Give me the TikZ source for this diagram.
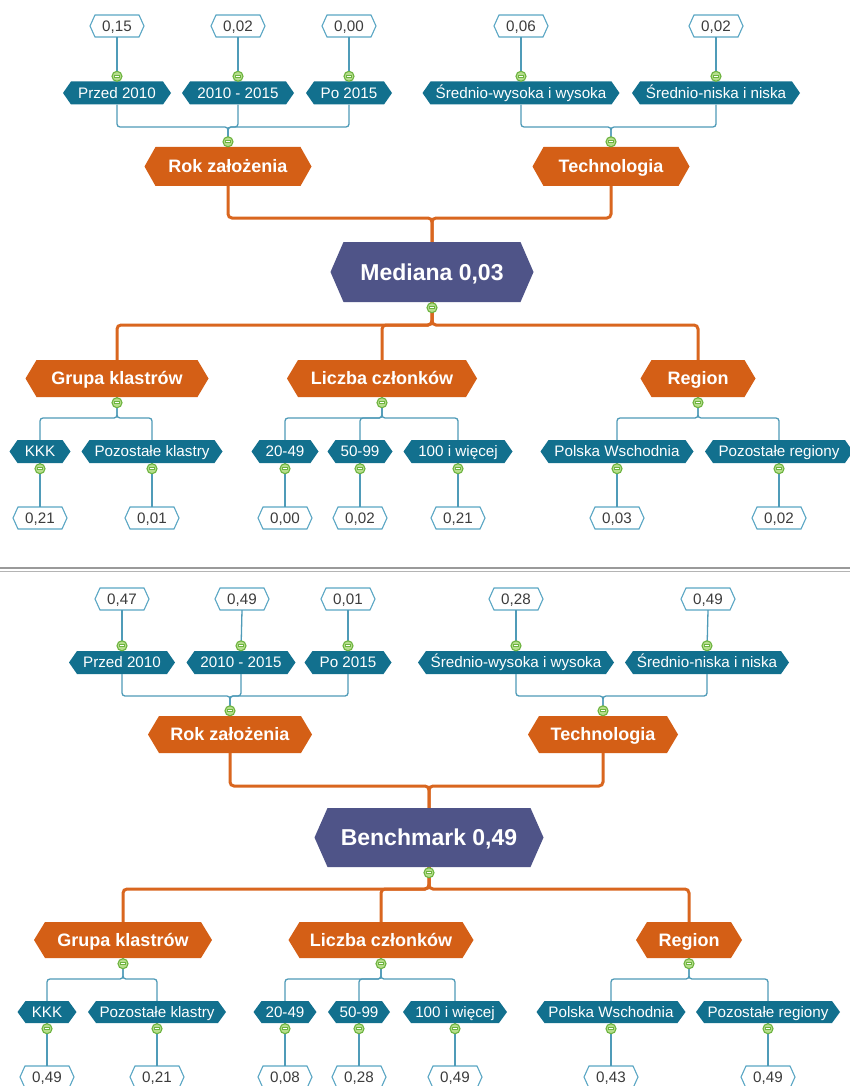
\documentclass[tikz,border=0pt]{standalone}
\usepackage{fontspec}
\setmainfont{Liberation Sans}
\definecolor{tealfill}{HTML}{12708E}
\definecolor{orgfill}{HTML}{D45F16}
\definecolor{rootfill}{HTML}{4F5488}
\definecolor{valline}{HTML}{5AA6C4}
\definecolor{valtextc}{HTML}{3C3C3C}
\definecolor{tlinec}{HTML}{4F9BB8}
\definecolor{olinec}{HTML}{D9661F}
\definecolor{cgreen}{HTML}{6DB33F}
\definecolor{cfill}{HTML}{B6DE8C}
\definecolor{sepdark}{HTML}{9A9A9A}
\definecolor{seplight}{HTML}{B4B4B4}
\newcommand\hexnode[8]{% #1 kind, #2 name, #3 x, #4 y, #5 w, #6 h, #7 d, #8 text
  \path[#1shape] ({#3-#5/2},{#4}) -- ({#3-#5/2+#7},{#4-#6/2}) -- ({#3+#5/2-#7},{#4-#6/2})
     -- ({#3+#5/2},{#4}) -- ({#3+#5/2-#7},{#4+#6/2}) -- ({#3-#5/2+#7},{#4+#6/2}) -- cycle;
  \node[#1text, minimum width=#5pt, minimum height=#6pt] (#2) at (#3,#4) {#8};
}
\begin{document}
\begin{tikzpicture}[x=1pt,y=-1pt,
  tealshape/.style={fill=tealfill},
  tealtext/.style={text=white, font=\fontsize{15.2}{18}\selectfont, inner sep=0pt, text height=10.6pt, text depth=0pt},
  orgshape/.style={fill=orgfill},
  orgtext/.style={text=white, font=\bfseries\fontsize{18}{22}\selectfont, inner sep=0pt, text height=12.6pt, text depth=0pt},
  rootshape/.style={fill=rootfill},
  roottext/.style={text=white, font=\bfseries\fontsize{23}{27}\selectfont, inner sep=0pt, text height=16.2pt, text depth=0pt},
  valshape/.style={fill=white, draw=valline, line width=1.1pt},
  valtext/.style={text=valtextc, font=\fontsize{15.2}{18}\selectfont, inner sep=0pt, text height=10.6pt, text depth=0pt},
  tline/.style={draw=tlinec, line width=1.3pt, rounded corners=3pt},
  oline/.style={draw=olinec, line width=3pt, rounded corners=4pt},
  collapse/.style={circle, draw=cgreen, fill=cfill, line width=1.1pt, minimum size=10pt, inner sep=0pt,
    path picture={\draw[cgreen, line width=2.8pt] ([xshift=-2.8pt]path picture bounding box.center) -- ([xshift=2.8pt]path picture bounding box.center);
                  \draw[white, line width=1.2pt] ([xshift=-2.4pt]path picture bounding box.center) -- ([xshift=2.4pt]path picture bounding box.center);}}
]
\fill[white] (0,0) rectangle (850,1086);
\useasboundingbox (0,0) rectangle (850,1086);

% ================= TOP HALF =================
\hexnode{val}{va1}{117}{26}{54}{22}{5}{0,15}
\hexnode{val}{va2}{238}{26}{54}{22}{5}{0,02}
\hexnode{val}{va3}{349}{26}{54}{22}{5}{0,00}
\hexnode{val}{va4}{521}{26}{54}{22}{5}{0,06}
\hexnode{val}{va5}{716}{26}{54}{22}{5}{0,02}

\hexnode{teal}{ta1}{117}{93}{108}{23}{8}{Przed 2010}
\hexnode{teal}{ta2}{238}{93}{112}{23}{8}{2010 - 2015}
\hexnode{teal}{ta3}{349}{93}{86}{23}{8}{Po 2015}
\hexnode{teal}{ta4}{521}{93}{197}{23}{8}{Średnio-wysoka i wysoka}
\hexnode{teal}{ta5}{716}{93}{168}{23}{8}{Średnio-niska i niska}

\hexnode{org}{rokA}{228}{166.5}{167}{39}{11}{Rok założenia}
\hexnode{org}{techA}{611}{166.5}{157}{39}{11}{Technologia}

\hexnode{root}{medA}{432}{272}{203}{60}{13}{Mediana 0,03}

\hexnode{org}{grupaA}{117}{378.5}{183}{37}{11}{Grupa klastrów}
\hexnode{org}{liczbaA}{382}{378.5}{190}{37}{11}{Liczba członków}
\hexnode{org}{regionA}{698}{378.5}{115}{37}{11}{Region}

\hexnode{teal}{kkkA}{40}{451.5}{61}{23}{8}{KKK}
\hexnode{teal}{pkA}{152}{451.5}{141}{23}{8}{Pozostałe klastry}
\hexnode{teal}{a20}{285}{451.5}{67}{23}{8}{20-49}
\hexnode{teal}{a50}{360}{451.5}{65}{23}{8}{50-99}
\hexnode{teal}{a100}{458}{451.5}{109}{23}{8}{100 i więcej}
\hexnode{teal}{pwA}{617}{451.5}{153}{23}{8}{Polska Wschodnia}
\hexnode{teal}{prA}{779}{451.5}{148}{23}{8}{Pozostałe regiony}

\hexnode{val}{wa1}{40}{518}{54}{22}{5}{0,21}
\hexnode{val}{wa2}{152}{518}{54}{22}{5}{0,01}
\hexnode{val}{wa3}{285}{518}{54}{22}{5}{0,00}
\hexnode{val}{wa4}{360}{518}{54}{22}{5}{0,02}
\hexnode{val}{wa5}{458}{518}{54}{22}{5}{0,21}
\hexnode{val}{wa6}{617}{518}{54}{22}{5}{0,03}
\hexnode{val}{wa7}{779}{518}{54}{22}{5}{0,02}

\coordinate (tbusA) at (0,127);
\coordinate (obusA) at (0,218);
\coordinate (obusA2) at (0,325);
\coordinate (tbusA2) at (0,418);

\foreach \v/\t in {va1/ta1,va2/ta2,va3/ta3,va4/ta4,va5/ta5}
  \draw[tline] (\v.south) -- (\t.north);
\foreach \t/\p in {ta1/rokA,ta2/rokA,ta3/rokA,ta4/techA,ta5/techA}
  \draw[tline] (\t.south) -- (\t.south |- tbusA) -- (\p.north |- tbusA) -- (\p.north);
\foreach \p in {rokA,techA}
  \draw[oline] (\p.south) -- (\p.south |- obusA) -- (medA.north |- obusA) -- (medA.north);
\foreach \c in {grupaA,liczbaA,regionA}
  \draw[oline] (medA.south) -- (medA.south |- obusA2) -- (\c.north |- obusA2) -- (\c.north);
\foreach \p/\c in {grupaA/kkkA,grupaA/pkA,liczbaA/a20,liczbaA/a50,liczbaA/a100,regionA/pwA,regionA/prA}
  \draw[tline] (\p.south) -- (\p.south |- tbusA2) -- (\c.north |- tbusA2) -- (\c.north);
\foreach \c/\v in {kkkA/wa1,pkA/wa2,a20/wa3,a50/wa4,a100/wa5,pwA/wa6,prA/wa7}
  \draw[tline] (\c.south) -- (\v.north);

\foreach \n in {ta1,ta2,ta3,ta4,ta5,rokA,techA}
  \node[collapse] (c\n) at ([yshift=5pt]\n.north) {};
\foreach \n in {medA,grupaA,liczbaA,regionA,kkkA,pkA,a20,a50,a100,pwA,prA}
  \node[collapse] (c\n) at ([yshift=-5.5pt]\n.south) {};

% ================= SEPARATOR =================
\draw[sepdark, line width=2.6pt] (0,568) -- (850,568);
\draw[seplight, line width=1pt] (0,571.4) -- (850,571.4);

% ================= BOTTOM HALF =================
\hexnode{val}{vb1}{122}{599}{54}{22}{5}{0,47}
\hexnode{val}{vb2}{242}{599}{54}{22}{5}{0,49}
\hexnode{val}{vb3}{348}{599}{54}{22}{5}{0,01}
\hexnode{val}{vb4}{516}{599}{54}{22}{5}{0,28}
\hexnode{val}{vb5}{708}{599}{54}{22}{5}{0,49}

\hexnode{teal}{tb1}{122}{662.5}{106}{23}{8}{Przed 2010}
\hexnode{teal}{tb2}{241}{662.5}{109}{23}{8}{2010 - 2015}
\hexnode{teal}{tb3}{348}{662.5}{87}{23}{8}{Po 2015}
\hexnode{teal}{tb4}{516}{662.5}{196}{23}{8}{Średnio-wysoka i wysoka}
\hexnode{teal}{tb5}{707}{662.5}{164}{23}{8}{Średnio-niska i niska}

\hexnode{org}{rokB}{230}{734.5}{164}{37}{11}{Rok założenia}
\hexnode{org}{techB}{603}{734.5}{150}{37}{11}{Technologia}

\hexnode{root}{benchB}{429}{837.5}{229}{59}{13}{Benchmark 0,49}

\hexnode{org}{grupaB}{123}{940}{178}{36}{11}{Grupa klastrów}
\hexnode{org}{liczbaB}{381}{940}{185}{36}{11}{Liczba członków}
\hexnode{org}{regionB}{689}{940}{106}{36}{11}{Region}

\hexnode{teal}{kkkB}{47}{1012}{59}{22}{8}{KKK}
\hexnode{teal}{pkB}{157}{1012}{138}{22}{8}{Pozostałe klastry}
\hexnode{teal}{b20}{285}{1012}{63}{22}{8}{20-49}
\hexnode{teal}{b50}{359}{1012}{62}{22}{8}{50-99}
\hexnode{teal}{b100}{455}{1012}{104}{22}{8}{100 i więcej}
\hexnode{teal}{pwB}{611}{1012}{149}{22}{8}{Polska Wschodnia}
\hexnode{teal}{prB}{768}{1012}{144}{22}{8}{Pozostałe regiony}

\hexnode{val}{wb1}{47}{1077}{54}{22}{5}{0,49}
\hexnode{val}{wb2}{157}{1077}{54}{22}{5}{0,21}
\hexnode{val}{wb3}{285}{1077}{54}{22}{5}{0,08}
\hexnode{val}{wb4}{359}{1077}{54}{22}{5}{0,28}
\hexnode{val}{wb5}{455}{1077}{54}{22}{5}{0,49}
\hexnode{val}{wb6}{611}{1077}{54}{22}{5}{0,43}
\hexnode{val}{wb7}{768}{1077}{54}{22}{5}{0,49}

\coordinate (tbusB) at (0,696);
\coordinate (obusB) at (0,786);
\coordinate (obusB2) at (0,889);
\coordinate (tbusB2) at (0,979);

\foreach \v/\t in {vb1/tb1,vb2/tb2,vb3/tb3,vb4/tb4,vb5/tb5}
  \draw[tline] (\v.south) -- (\t.north);
\foreach \t/\p in {tb1/rokB,tb2/rokB,tb3/rokB,tb4/techB,tb5/techB}
  \draw[tline] (\t.south) -- (\t.south |- tbusB) -- (\p.north |- tbusB) -- (\p.north);
\foreach \p in {rokB,techB}
  \draw[oline] (\p.south) -- (\p.south |- obusB) -- (benchB.north |- obusB) -- (benchB.north);
\foreach \c in {grupaB,liczbaB,regionB}
  \draw[oline] (benchB.south) -- (benchB.south |- obusB2) -- (\c.north |- obusB2) -- (\c.north);
\foreach \p/\c in {grupaB/kkkB,grupaB/pkB,liczbaB/b20,liczbaB/b50,liczbaB/b100,regionB/pwB,regionB/prB}
  \draw[tline] (\p.south) -- (\p.south |- tbusB2) -- (\c.north |- tbusB2) -- (\c.north);
\foreach \c/\v in {kkkB/wb1,pkB/wb2,b20/wb3,b50/wb4,b100/wb5,pwB/wb6,prB/wb7}
  \draw[tline] (\c.south) -- (\v.north);

\foreach \n in {tb1,tb2,tb3,tb4,tb5,rokB,techB}
  \node[collapse] (c\n) at ([yshift=5pt]\n.north) {};
\foreach \n in {benchB,grupaB,liczbaB,regionB,kkkB,pkB,b20,b50,b100,pwB,prB}
  \node[collapse] (c\n) at ([yshift=-5.5pt]\n.south) {};
\end{tikzpicture}
\end{document}
